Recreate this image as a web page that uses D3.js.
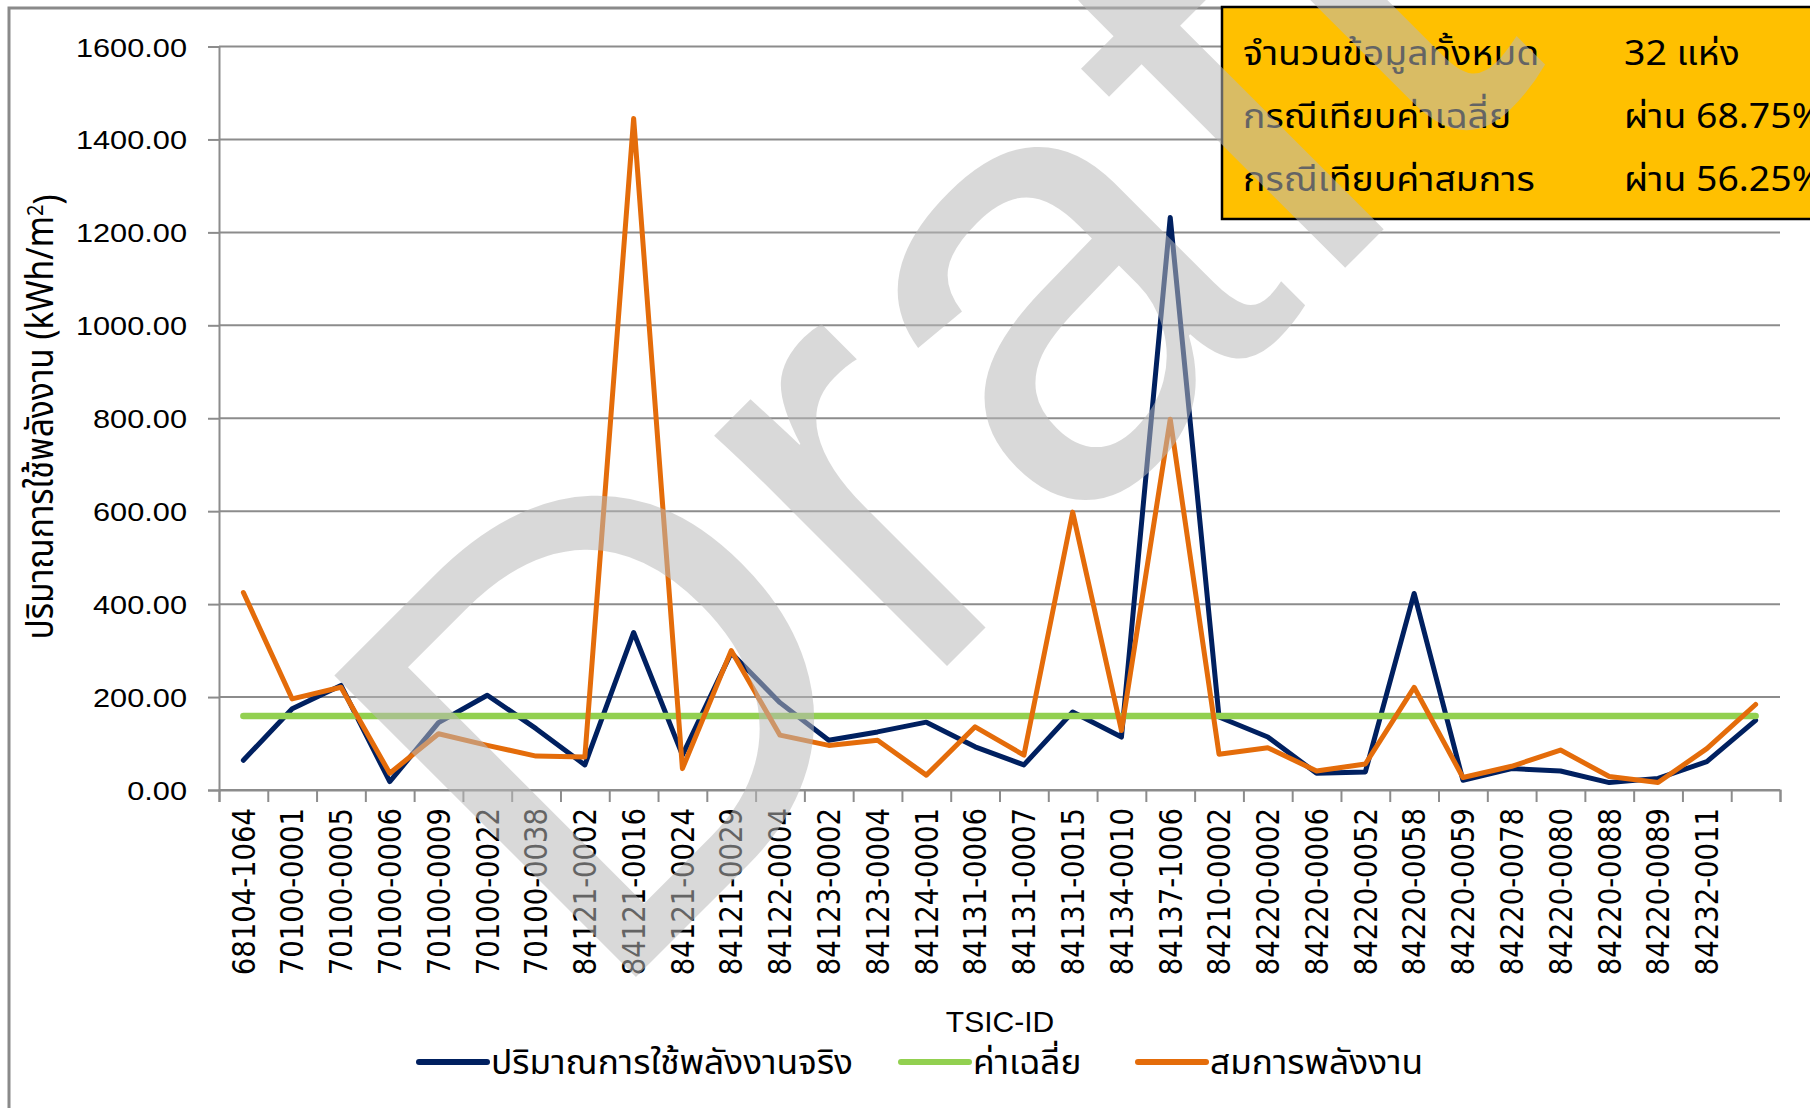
<!DOCTYPE html>
<html>
<head>
<meta charset="utf-8">
<script src="https://cdn.jsdelivr.net/npm/d3@7"></script>
<style>
  body { margin: 0; background: #ffffff; }
  svg { display: block; }
</style>
</head>
<body>
<svg id="chart" width="1810" height="1108"></svg>
<script>
// TSIC codes along the x axis (the last site has no printed code)
const categories = [
  "68104-1064", "70100-0001", "70100-0005", "70100-0006", "70100-0009",
  "70100-0022", "70100-0038", "84121-0002", "84121-0016", "84121-0024",
  "84121-0029", "84122-0004", "84123-0002", "84123-0004", "84124-0001",
  "84131-0006", "84131-0007", "84131-0015", "84134-0010", "84137-1006",
  "84210-0002", "84220-0002", "84220-0006", "84220-0052", "84220-0058",
  "84220-0059", "84220-0078", "84220-0080", "84220-0088", "84220-0089",
  "84232-0011", ""
];

// Actual energy use intensity, kWh/m2
const actualUse = [
  64, 175, 225, 18, 145, 204, 132, 54, 339, 75,
  295, 188, 107, 125, 146, 93, 54, 168, 114, 1232,
  157, 114, 36, 39, 423, 21, 46, 41, 16, 25,
  61, 150
];

// Energy use from the equation, kWh/m2
const equationUse = [
  425, 196, 221, 36, 121, 96, 73, 71, 1445, 46,
  300, 118, 96, 107, 32, 136, 75, 598, 128, 798,
  77, 91, 41, 56, 221, 27, 51, 86, 29, 16,
  89, 184
];

// Group average, kWh/m2
const averageUse = 159;

const yTicks = [0, 200, 400, 600, 800, 1000, 1200, 1400, 1600];

const seriesNames = ["ปริมาณการใช้พลังงานจริง", "ค่าเฉลี่ย", "สมการพลังงาน"];
const seriesColors = ["#002060", "#92D050", "#E46C0A"];

const summaryLabels = ["จำนวนข้อมูลทั้งหมด", "กรณีเทียบค่าเฉลี่ย", "กรณีเทียบค่าสมการ"];
const summaryValues = ["32 แห่ง", "ผ่าน 68.75%", "ผ่าน 56.25%"];

const thaiFont = "Tahoma, 'Noto Sans Thai', 'Noto Sans', 'DejaVu Sans', sans-serif";
const latinFont = "'Liberation Sans', Arial, sans-serif";

const svg = d3.select("#chart");
const plot = { left: 219, right: 1780, top: 46.5, bottom: 790 };
const gridColor = "#8c8c8c";

const idx = d3.range(categories.length);
const x = d3.scaleBand().domain(idx).range([plot.left, plot.right]);
const xc = i => x(i) + x.bandwidth() / 2;
const y = d3.scaleLinear().domain([0, 1600]).range([plot.bottom, plot.top]);

// outer chart frame (left and top edges)
svg.append("path")
  .attr("d", "M9,1108 V8 H1810")
  .attr("fill", "none")
  .attr("stroke", "#8a8a8a")
  .attr("stroke-width", 3);

// horizontal gridlines
svg.append("g")
  .selectAll("line")
  .data(yTicks)
  .join("line")
  .attr("x1", plot.left).attr("x2", plot.right)
  .attr("y1", d => y(d)).attr("y2", d => y(d))
  .attr("stroke", gridColor)
  .attr("stroke-width", 2);

// y axis
const yAxis = svg.append("g")
  .attr("transform", `translate(${plot.left},0)`)
  .call(d3.axisLeft(y).tickValues(yTicks).tickFormat(d3.format(".2f")).tickSize(11));
yAxis.select(".domain").attr("stroke", gridColor).attr("stroke-width", 2);
yAxis.selectAll(".tick line").attr("stroke", gridColor).attr("stroke-width", 2);
yAxis.selectAll(".tick text")
  .attr("x", 0).attr("dy", "0.36em")
  .attr("transform", "translate(-32,0) scale(1.16,1)")
  .style("text-anchor", "end")
  .style("font-family", latinFont)
  .style("font-size", "26.5px")
  .attr("fill", "#000");

// x axis: boundary ticks
const xEdge = d3.scaleLinear().domain([0, categories.length]).range([plot.left, plot.right]);
const xTickAxis = svg.append("g")
  .attr("transform", `translate(0,${plot.bottom})`)
  .call(d3.axisBottom(xEdge).tickValues(d3.range(categories.length + 1)).tickFormat("").tickSize(12));
xTickAxis.select(".domain").attr("stroke", gridColor).attr("stroke-width", 2);
xTickAxis.selectAll(".tick line").attr("stroke", gridColor).attr("stroke-width", 2);

// x axis: category labels
const xLabelAxis = svg.append("g")
  .attr("transform", `translate(0,${plot.bottom})`)
  .call(d3.axisBottom(x).tickSize(0).tickFormat(i => categories[i]));
xLabelAxis.select(".domain").remove();
xLabelAxis.selectAll(".tick text")
  .attr("x", 0).attr("y", 0).attr("dy", "0.36em")
  .attr("transform", "translate(0,18) scale(1.14,1) rotate(-90)")
  .style("text-anchor", "end")
  .style("font-family", "'DejaVu Sans', sans-serif")
  .style("font-size", "27.5px")
  .attr("fill", "#000");

// axis titles
svg.append("text")
  .attr("transform", "translate(1000,1032)")
  .attr("text-anchor", "middle")
  .style("font-family", latinFont)
  .style("font-size", "30px")
  .text("TSIC-ID");

const yTitle = svg.append("text")
  .attr("transform", "translate(53,417) scale(1.12,1) rotate(-90)")
  .attr("text-anchor", "middle")
  .style("font-family", thaiFont)
  .style("font-size", "33.5px");
yTitle.append("tspan").text("ปริมาณการใช้พลังงาน (kWh/m");
yTitle.append("tspan").attr("dy", "-0.45em").style("font-size", "20px").text("2");
yTitle.append("tspan").attr("dy", "0.45em").text(")");

// series lines
const line = d3.line().x((d, i) => xc(i)).y(d => y(d));
const averageSeries = idx.map(() => averageUse);
const seriesData = [actualUse, averageSeries, equationUse];
const seriesWidths = [5, 6.5, 5];

svg.append("g")
  .selectAll("path")
  .data(seriesData)
  .join("path")
  .attr("d", d => line(d))
  .attr("fill", "none")
  .attr("stroke", (d, i) => seriesColors[i])
  .attr("stroke-width", (d, i) => seriesWidths[i])
  .attr("stroke-linejoin", "round")
  .attr("stroke-linecap", "round");

// legend
const legendX = [419, 901, 1138];
const legendY = 1062;
const legend = svg.append("g")
  .selectAll("g")
  .data(seriesNames)
  .join("g")
  .attr("transform", (d, i) => `translate(${legendX[i]},${legendY})`);
legend.append("line")
  .attr("x1", 0).attr("x2", 68)
  .attr("stroke", (d, i) => seriesColors[i])
  .attr("stroke-width", 6)
  .attr("stroke-linecap", "round");
legend.append("text")
  .attr("transform", "translate(72,0) scale(1.07,1)")
  .attr("dy", "0.36em")
  .style("font-family", thaiFont)
  .style("font-size", "33px")
  .text(d => d);

// summary box
const box = svg.append("g");
box.append("rect")
  .attr("x", 1222).attr("y", 7)
  .attr("width", 640).attr("height", 212)
  .attr("fill", "#FFC000")
  .attr("stroke", "#000")
  .attr("stroke-width", 2.5);
const rowY = [65, 128, 191];
box.selectAll("text.lab")
  .data(summaryLabels)
  .join("text")
  .attr("class", "lab")
  .attr("transform", (d, i) => `translate(1243,${rowY[i]}) scale(1.1,1)`)
  .style("font-family", thaiFont)
  .style("font-size", "34px")
  .text(d => d);
box.selectAll("text.val")
  .data(summaryValues)
  .join("text")
  .attr("class", "val")
  .attr("transform", (d, i) => `translate(1624,${rowY[i]}) scale(1.1,1)`)
  .style("font-family", thaiFont)
  .style("font-size", "34px")
  .text(d => d);

// draft watermark over everything
svg.append("text")
  .attr("transform", "translate(600,1013) rotate(-45)")
  .style("font-family", latinFont)
  .style("font-size", "620px")
  .attr("fill", "rgb(185,185,185)")
  .attr("fill-opacity", 0.54)
  .text("Draft");
</script>
</body>
</html>
